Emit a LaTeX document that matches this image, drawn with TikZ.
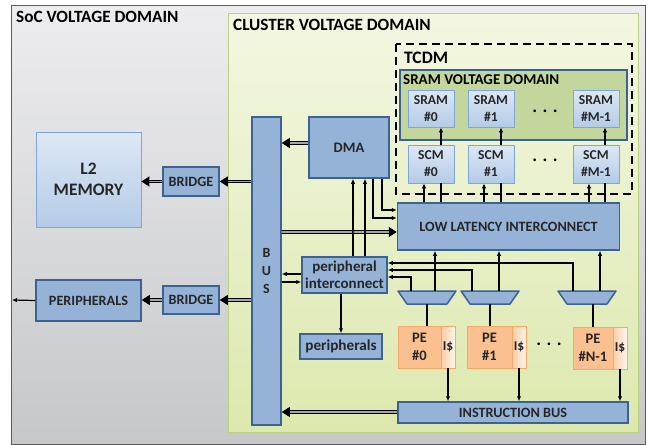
\documentclass[tikz,border=0pt]{standalone}
\usepackage{fontspec}
\setmainfont{Carlito}
\usetikzlibrary{arrows.meta}
\definecolor{blkfill}{HTML}{95B3D7}
\definecolor{blkline}{HTML}{3B6290}
\definecolor{memtop}{HTML}{DDE8F5}
\definecolor{membot}{HTML}{B4CBE7}
\definecolor{memline}{HTML}{7EA6DA}
\definecolor{pefill}{HTML}{FAC090}
\definecolor{peline}{HTML}{F7A868}
\definecolor{socline}{HTML}{5A5A5A}
\definecolor{soctop}{HTML}{EDEDEF}
\definecolor{socbot}{HTML}{C6C7C9}
\definecolor{cltop}{HTML}{F3F7E2}
\definecolor{clbot}{HTML}{DDE8AE}
\definecolor{clline}{HTML}{B6D47E}
\definecolor{sramdom}{HTML}{C3D69B}
\begin{document}
\begin{tikzpicture}[x=1pt,y=-1pt,
    blk/.style={draw=blkline, fill=blkfill, line width=1.5pt, inner sep=0pt, align=center,
        font=\bfseries\fontsize{14.2}{16}\selectfont, text=black!85},
    mem/.style={draw=memline, top color=memtop, bottom color=membot, line width=0.8pt, inner sep=0pt,
        align=center, font=\bfseries\fontsize{13.6}{17}\selectfont, text=black!85},
    pe/.style={draw=peline, fill=pefill, line width=0.8pt, inner sep=0pt, align=center,
        font=\bfseries\fontsize{14.5}{18}\selectfont, text=black!85},
    icache/.style={draw=peline, left color=pefill!80, right color=pefill!15, line width=0.8pt, inner sep=0pt,
        font=\bfseries\fontsize{13.5}{14}\selectfont, text=black!85},
    muxshape/.style={draw=blkline, fill=blkfill, line width=1.5pt, line join=round},
    title/.style={anchor=west, inner sep=0pt, font=\bfseries\fontsize{17.2}{18}\selectfont},
    dots/.style={font=\bfseries\fontsize{18}{18}\selectfont},
    wire/.style={line width=1.2pt, -{Latex[length=5pt,width=4.5pt]}},
    fat/.style={draw=black, double=gray!70, double distance=1.4pt, line width=0.9pt,
        -{Triangle[length=8pt,width=10pt]}},
]
\useasboundingbox (0,0) rectangle (649,445);
\draw[draw=socline, line width=1pt, top color=soctop, bottom color=socbot] (11,5) rectangle (645,444);
\draw[draw=clline, line width=1pt, top color=cltop, bottom color=clbot] (228,13) rectangle (638,432);
\node[title] (soct) at (16,17) {SoC VOLTAGE DOMAIN};
\node[title] (clt) at (233,25) {CLUSTER VOLTAGE DOMAIN};
\draw[dashed, line width=2pt, dash pattern=on 8pt off 5pt] (396,44) rectangle (632,194);
\node[title, font=\bfseries\fontsize{17.5}{18}\selectfont] (tcdmt) at (404,58) {TCDM};
\draw[draw=blkline, fill=sramdom, line width=2pt] (400,70) rectangle (627,140);
\node[title, font=\bfseries\fontsize{15}{16}\selectfont] (sramt) at (403,80) {SRAM VOLTAGE DOMAIN};

\node[mem, minimum width=105pt, minimum height=95pt, font=\bfseries\fontsize{17.5}{21}\selectfont] (l2) at (88.5,179.5) {L2\\MEMORY};
\node[blk, minimum width=56pt, minimum height=29pt] (bridge1) at (191,181.5) {BRIDGE};
\node[blk, minimum width=56pt, minimum height=28pt] (bridge2) at (191,300) {BRIDGE};
\node[blk, minimum width=105pt, minimum height=41pt] (per) at (88.5,300.5) {PERIPHERALS};
\coordinate (out) at (12,300);
\node[blk, minimum width=29pt, minimum height=308pt, font=\bfseries\fontsize{14}{18}\selectfont] (bus) at (266.5,271) {B\\U\\S};
\node[blk, minimum width=80pt, minimum height=61pt, font=\bfseries\fontsize{14.5}{16}\selectfont] (dma) at (349,147.5) {DMA};
\node[blk, minimum width=222pt, minimum height=47pt] (lli) at (508.5,226.5) {LOW LATENCY INTERCONNECT};
\node[blk, minimum width=85pt, minimum height=36pt, font=\bfseries\fontsize{15}{17}\selectfont] (pi) at (344.5,275) {peripheral\\interconnect};
\node[blk, minimum width=82pt, minimum height=25pt, font=\bfseries\fontsize{15.2}{17}\selectfont] (pp) at (341,346.5) {peripherals};

\node[mem, minimum width=46pt, minimum height=37pt] (sram0) at (431,108.5) {SRAM\\\#0};
\node[mem, minimum width=46pt, minimum height=37pt] (sram1) at (491,108.5) {SRAM\\\#1};
\node[mem, minimum width=46pt, minimum height=37pt] (sramm) at (596,108.5) {SRAM\\\#M-1};
\node[dots] (sramdots) at (545,111) {. . .};
\node[mem, minimum width=46pt, minimum height=38pt] (scm0) at (431,164) {SCM\\\#0};
\node[mem, minimum width=46pt, minimum height=38pt] (scm1) at (491,164) {SCM\\\#1};
\node[mem, minimum width=46pt, minimum height=38pt] (scmm) at (596,164) {SCM\\\#M-1};
\node[dots] (scmdots) at (545,160) {. . .};

\coordinate (mux0) at (427,297.5);
\coordinate (mux1) at (490,297.5);
\coordinate (mux2) at (587,297.5);
\draw[muxshape, shift={(mux0)}] (-29,-6.5) -- (29,-6.5) -- (20,6.5) -- (-20,6.5) -- cycle;
\draw[muxshape, shift={(mux1)}] (-29,-6.5) -- (29,-6.5) -- (20,6.5) -- (-20,6.5) -- cycle;
\draw[muxshape, shift={(mux2)}] (-29,-6.5) -- (29,-6.5) -- (20,6.5) -- (-20,6.5) -- cycle;

\node[pe, minimum width=43pt, minimum height=42pt] (pe0) at (419.5,347) {PE\\\#0};
\node[icache, minimum width=14pt, minimum height=42pt] (ic0) at (448,347) {I\$};
\node[pe, minimum width=45pt, minimum height=42pt] (pe1) at (489.5,347) {PE\\\#1};
\node[icache, minimum width=14pt, minimum height=42pt] (ic1) at (519,347) {I\$};
\node[pe, minimum width=40pt, minimum height=42pt] (pen) at (593,348) {PE\\\#N-1};
\node[icache, minimum width=14pt, minimum height=42pt] (icn) at (620,348) {I\$};
\node[dots] (pedots) at (549,344) {. . .};
\node[blk, minimum width=230pt, minimum height=21pt] (ib) at (513,412.5) {INSTRUCTION BUS};

\draw[fat] ([yshift=4.5]dma.west) -- ([yshift=4.5]dma.west -| bus.east);
\draw[fat] (bus.west |- bridge1.east) -- (bridge1.east);
\draw[fat] (bridge1.west) -- (bridge1.west -| l2.east);
\draw[fat] (bus.west |- bridge2.east) -- (bridge2.east);
\draw[fat] (bridge2.west) -- (bridge2.west -| per.east);
\draw[wire] (per.west) -- (out);
\draw[fat] ([yshift=-5.5]lli.west -| bus.east) -- ([yshift=-5.5]lli.west);
\draw[fat] ([yshift=0.5]ib.west) -- ([yshift=0.5]ib.west -| bus.east);
\draw[wire] ([xshift=33]dma.south) |- ([yshift=16.5]lli.west);
\draw[wire] ([xshift=24]dma.south) |- ([yshift=8.5]lli.west);
\draw[wire] ([xshift=8.5]pi.north) -- ([xshift=8.5]pi.north |- dma.south);
\draw[wire] ([xshift=20.5]pi.north) -- ([xshift=20.5]pi.north |- dma.south);
\draw[wire] ([yshift=1]pi.west) -- ([yshift=1]pi.west -| bus.east);
\draw[wire] ([yshift=-7]pi.west -| bus.east) -- ([yshift=-7]pi.west);
\draw[wire] (pi.south -| pp.north) -- (pp.north);

\draw[wire] ([xshift=-7]scm0.south |- lli.north) -- ([xshift=-7]scm0.south);
\draw[wire] ([xshift=-7]scm1.south |- lli.north) -- ([xshift=-7]scm1.south);
\draw[wire] ([xshift=-7]scmm.south |- lli.north) -- ([xshift=-7]scmm.south);
\draw[line width=1.2pt] ([xshift=10]scm0.south |- lli.north) -- ([xshift=10]scm0.south);
\draw[line width=1.2pt] ([xshift=10]scm1.south |- lli.north) -- ([xshift=10]scm1.south);
\draw[line width=1.2pt] ([xshift=9]scmm.south |- lli.north) -- ([xshift=9]scmm.south);
\draw[wire] ([xshift=10]scm0.north) -- ([xshift=10]scm0.north |- sram0.south);
\draw[wire] ([xshift=10]scm1.north) -- ([xshift=10]scm1.north |- sram1.south);
\draw[wire] ([xshift=9]scmm.north) -- ([xshift=9]scmm.north |- sramm.south);

\draw[wire] ([xshift=8,yshift=6.5]mux0) -- ([xshift=8]mux0 |- lli.south);
\draw[wire] ([xshift=9,yshift=6.5]mux1) -- ([xshift=9]mux1 |- lli.south);
\draw[wire] ([xshift=13,yshift=6.5]mux2) -- ([xshift=13]mux2 |- lli.south);
\draw[wire] ([xshift=-16,yshift=6.5]mux0) |- ([yshift=-2]pi.east);
\draw[wire] ([xshift=-18,yshift=6.5]mux1) |- ([yshift=5]pi.east);
\draw[wire] ([xshift=-14,yshift=6.5]mux2) |- ([yshift=12]pi.east);
\draw[line width=1.2pt] (pe0.north -| mux0) -- ([yshift=-6.5]mux0);
\draw[line width=1.2pt] (pe1.north -| mux1) -- ([yshift=-6.5]mux1);
\draw[line width=1.2pt] (pen.north) -- ([yshift=-6.5]mux2 -| pen.north);
\draw[wire] (ic0.south) -- (ic0.south |- ib.north);
\draw[wire] (ic1.south) -- (ic1.south |- ib.north);
\draw[wire] (icn.south) -- (icn.south |- ib.north);
\end{tikzpicture}
\end{document}
